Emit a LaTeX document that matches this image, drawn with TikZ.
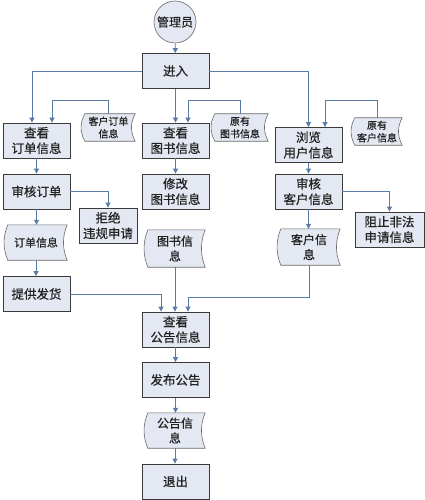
\documentclass[tikz,border=0pt]{standalone}
\usepackage{fontspec}
\setmainfont{Noto Sans CJK SC}[FakeBold=0.6]
\usetikzlibrary{arrows.meta,calc,backgrounds}
\definecolor{boxfill}{HTML}{E3E8F2}
\definecolor{boxline}{HTML}{3A3A3A}
\definecolor{docline}{HTML}{6A6A6A}
\definecolor{arrowc}{HTML}{5A7BA6}
\definecolor{txt}{HTML}{222222}
\newcommand\docshape[1]{%
  \path[docpath] let \p1=(#1.north west), \p2=(#1.south east) in
  ({\x1+3pt},\y1) -- (\x2,\y1)
  .. controls ({\x2-5pt},{(2*\y1+\y2)/3}) and ({\x2-5pt},{(\y1+2*\y2)/3}) .. (\x2,\y2)
  -- ({\x1+3pt},\y2)
  .. controls ({\x1-2pt},{(\y1+2*\y2)/3}) and ({\x1-2pt},{(2*\y1+\y2)/3}) .. cycle;}
\tikzset{
  box/.style={draw=boxline,fill=boxfill,line width=0.8pt,minimum width=67,minimum height=35,
    inner sep=0pt,align=center,text=txt,font=\fontsize{12.5}{15.5}\selectfont},
  docnode/.style={inner sep=0pt,align=center,text=txt,font=\fontsize{12}{15}\selectfont},
  smalldoc/.style={docnode,font=\fontsize{10}{12.5}\selectfont},
  docpath/.style={draw=docline,fill=boxfill,line width=0.6pt},
  conn/.style={draw=arrowc,line width=0.8pt,-{Triangle[length=5pt,width=5pt]}},
}
\begin{document}
\begin{tikzpicture}[x=1pt,y=-1pt]
\useasboundingbox (0,0) rectangle (425,500);
% circle
\node[circle,draw=docline,fill=boxfill,line width=0.6pt,minimum size=42,inner sep=0pt,text=txt,
  font=\fontsize{12}{15}\selectfont] (admin) at (175,22) {管理员};
% boxes
\node[box] (enter) at (175.5,71) {进入};
\node[box] (vieworder) at (36.5,140.5) {查看\\订单信息};
\node[box] (viewbook) at (175.5,140.5) {查看\\图书信息};
\node[box] (browse) at (308.5,145) {浏览\\用户信息};
\node[box] (audit) at (36.5,191.5) {审核订单};
\node[box,minimum width=58] (reject) at (108,225.5) {拒绝\\违规申请};
\node[box] (modify) at (175.5,191.5) {修改\\图书信息};
\node[box] (auditcust) at (308.5,191.5) {审核\\客户信息};
\node[box,minimum width=69] (block) at (389.5,229.5) {阻止非法\\申请信息};
\node[box] (ship) at (36.5,294) {提供发货};
\node[box] (notice) at (175.5,329.5) {查看\\公告信息};
\node[box] (publish) at (175.5,380) {发布公告};
\node[box] (exit) at (175.5,481.5) {退出};
% documents
\node[smalldoc,minimum width=53,minimum height=27] (custorder) at (108.5,127.5) {客户订单\\信息};
\node[smalldoc,minimum width=56,minimum height=27] (origbook) at (240,127.5) {原有\\图书信息};
\node[smalldoc,minimum width=50,minimum height=27] (origcust) at (377,131.5) {原有\\客户信息};
\node[docnode,font=\fontsize{11}{14}\selectfont,minimum width=62,minimum height=35] (orderinfo) at (36,242.5) {订单信息};
\node[docnode,minimum width=60,minimum height=37] (bookinfo) at (175,248.5) {图书信\\息};
\node[docnode,minimum width=62,minimum height=36] (custinfo) at (309,247) {客户信\\息};
\node[docnode,minimum width=60,minimum height=35] (noticeinfo) at (175,430.5) {公告信\\息};
\begin{pgfonlayer}{background}
\foreach \dn in {custorder,origbook,origcust,orderinfo,bookinfo,custinfo,noticeinfo} {\docshape{\dn}}
\end{pgfonlayer}
% connectors
\draw[conn] (admin) -- (enter);
\draw[conn] (enter.west) -| ([xshift=-4.5]vieworder.north);
\draw[conn] (enter) -- (viewbook);
\draw[conn] (enter.east) -| (browse.north);
\draw[conn] (custorder.north) -- ++(0,-13) -| ([xshift=15.5]vieworder.north);
\draw[conn] (origbook.north) -- ++(0,-13) -| ([xshift=12.5]viewbook.north);
\draw[conn] (origcust.north) -- ++(0,-17) -| ([xshift=16.5]browse.north);
\draw[conn] (vieworder) -- (audit);
\draw[conn] (audit.east) -| (reject.north);
\draw[conn] (audit.south) -- (audit.south |- orderinfo.north);
\draw[conn] (orderinfo.south) -- (orderinfo.south |- ship.north);
\draw[conn] (viewbook) -- (modify);
\draw[conn] (bookinfo.south) -- (bookinfo.south |- notice.north);
\draw[conn] (browse) -- (auditcust);
\draw[conn] (auditcust.east) -| (block.north);
\draw[conn] (auditcust.south) -- (auditcust.south |- custinfo.north);
\draw[conn] (custinfo.south) -- ++(0,32) -| ([xshift=12.5]notice.north);
\draw[conn] (ship.east) -| ([xshift=-14.5]notice.north);
\draw[conn] (notice) -- (publish);
\draw[conn] (publish.south) -- (publish.south |- noticeinfo.north);
\draw[conn] (noticeinfo.south) -- (noticeinfo.south |- exit.north);
\end{tikzpicture}
\end{document}
